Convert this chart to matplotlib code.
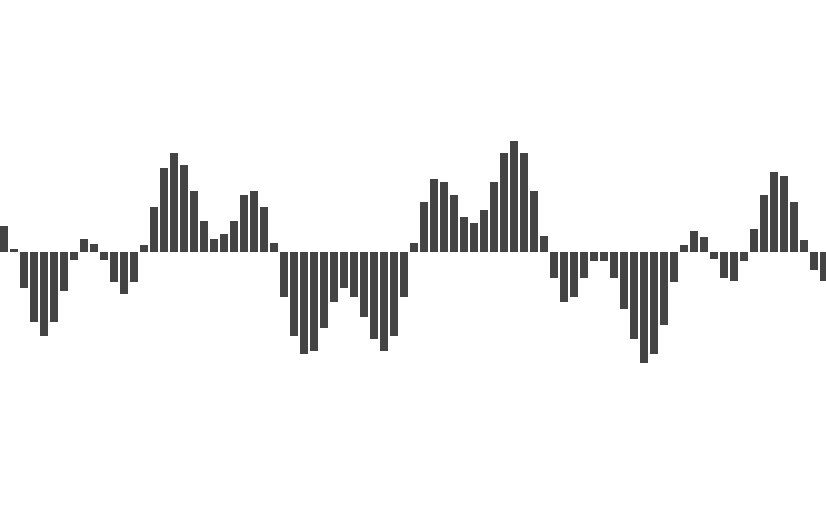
import numpy as np
import matplotlib
matplotlib.use('Agg')
import matplotlib.pyplot as plt

# valeurs (hauteur des barres)
valeurs = [26, 3, -36, -70, -84, -70, -39, -8, 13, 8,
           -8, -30, -42, -30, 7, 45, 84, 99, 87, 61,
           31, 13, 18, 31, 57, 61, 45, 9, -45, -84,
           -102, -99, -76, -50, -36, -45, -65, -87, -99, -84,
           -45, 9, 50, 73, 70, 57, 35, 29, 42, 70,
           99, 111, 99, 61, 16, -26, -50, -45, -26, -9,
           -9, -26, -57, -87, -111, -102, -73, -30, 7, 21,
           15, -7, -26, -29, -9, 23, 57, 80, 76, 50,
           12, -18, -29]
positions = np.arange(len(valeurs))

fig = plt.figure(figsize=(8.26, 5.09), dpi=100)
ax = fig.add_axes([0, 0, 1, 1])
ax.bar(positions, valeurs, width=0.8, color='#444444', linewidth=0)

ax.set_xlim(-0.4, 82.2)
ax.set_ylim(-257, 252)
ax.axis('off')

plt.savefig('out.png', dpi=100, facecolor='white')
